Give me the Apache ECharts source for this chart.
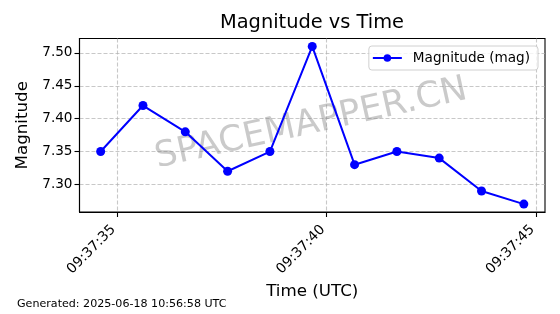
<!DOCTYPE html>
<html>
<head>
<meta charset="utf-8">
<script src="https://cdn.jsdelivr.net/npm/echarts@6/dist/echarts.min.js"></script>
<style>html,body{margin:0;padding:0;background:#fff}#c{width:560px;height:314px}</style>
</head>
<body>
<div id="c"></div>
<script>
// Data
const times = ["09:37:34.61","09:37:35.62","09:37:36.63","09:37:37.64","09:37:38.65","09:37:39.66","09:37:40.67","09:37:41.68","09:37:42.69","09:37:43.70","09:37:44.71"];
const magnitudes = [7.35, 7.42, 7.38, 7.32, 7.35, 7.51, 7.33, 7.35, 7.34, 7.29, 7.27];
const xTickLabels = ["09:37:35", "09:37:40", "09:37:45"];
const yTicks = [7.30, 7.35, 7.40, 7.45, 7.50];
const seriesName = "Magnitude (mag)";
const titleText = "Magnitude vs Time";
const xName = "Time (UTC)";
const yName = "Magnitude";
const footer = "Generated: 2025-06-18 10:56:58 UTC";
const watermark = "SPACEMAPPER.CN";

function toSec(s){ const p = s.split(":"); return (+p[0])*3600 + (+p[1])*60 + parseFloat(p[2]); }
function fmt(v){ v = Math.round(v); const h = Math.floor(v/3600), m = Math.floor((v%3600)/60), s = v%60; const z = n => String(n).padStart(2,"0"); return z(h)+":"+z(m)+":"+z(s); }

const xs = times.map(toSec);
const xTicks = xTickLabels.map(toSec);
const span = xs[xs.length-1] - xs[0];
const yspan = Math.max(...magnitudes) - Math.min(...magnitudes);
const xmin = xs[0] - span*0.05, xmax = xs[xs.length-1] + span*0.05;
const ymin = Math.min(...magnitudes) - yspan*0.05, ymax = Math.max(...magnitudes) + yspan*0.05;

const FONT = "DejaVu Sans";
const chart = echarts.init(document.getElementById("c"), null, {renderer: "canvas"});
chart.setOption({
  animation: false,
  backgroundColor: "#fff",
  textStyle: {fontFamily: FONT},
  grid: {left: 79.5, right: 15, top: 38.5, bottom: 102, show: true, borderColor: "#000", borderWidth: 1.1, backgroundColor: "transparent"},
  xAxis: {
    type: "value", min: xmin, max: xmax,
    name: xName, nameLocation: "middle", nameGap: 70,
    nameTextStyle: {fontFamily: FONT, fontSize: 16.7, color: "#000"},
    axisLine: {show: true, onZero: false, lineStyle: {color: "#000", width: 1.1}},
    axisTick: {show: true, length: 5, lineStyle: {color: "#000", width: 1.1}, customValues: xTicks},
    axisLabel: {customValues: xTicks, formatter: v => fmt(v), rotate: 45, margin: 12, padding: [0, 5, 0, 0], fontFamily: FONT, fontSize: 13.9, color: "#000"},
    splitLine: {show: true, lineStyle: {color: "#b0b0b0", opacity: 0.7, width: 1.1, type: [4, 2]}}
  },
  yAxis: {
    type: "value", min: ymin, max: ymax,
    name: yName, nameLocation: "middle", nameGap: 45,
    nameTextStyle: {fontFamily: FONT, fontSize: 16.7, color: "#000"},
    axisLine: {show: true, lineStyle: {color: "#000", width: 1.1}},
    axisTick: {show: true, length: 5, lineStyle: {color: "#000", width: 1.1}, customValues: yTicks},
    axisLabel: {customValues: yTicks, formatter: v => v.toFixed(2), margin: 7, fontFamily: FONT, fontSize: 13.6, color: "#000"},
    splitLine: {show: true, lineStyle: {color: "#b0b0b0", opacity: 0.7, width: 1.1, type: [4, 2]}}
  },
  legend: {
    data: [seriesName], right: 22, top: 46,
    orient: "vertical",
    itemWidth: 29, itemHeight: 9.5,
    padding: [5, 8, 5, 3],
    borderColor: "#d0d0d0", borderWidth: 1, borderRadius: 3,
    backgroundColor: "rgba(255,255,255,0.8)",
    textStyle: {fontFamily: FONT, fontSize: 13.6, color: "#000", padding: [0, 0, 0, 6]}
  },
  graphic: [
    {type: "text", x: 312, y: 23, style: {text: titleText, font: "19.4px DejaVu Sans", fill: "#000", align: "center", verticalAlign: "middle"}, z: 10},
    {type: "text", x: 311, y: 124, rotation: 12.5*Math.PI/180, style: {text: watermark, font: "35.5px DejaVu Sans", fill: "rgba(128,128,128,0.42)", align: "center", verticalAlign: "middle"}, z: 1},
    {type: "text", left: 17, top: 299, style: {text: footer, font: "11.1px DejaVu Sans", fill: "#000"}}
  ],
  series: [{
    name: seriesName, type: "line",
    data: xs.map((x, i) => [x, magnitudes[i]]),
    symbol: "circle", symbolSize: 9, showSymbol: true,
    lineStyle: {color: "#0000ff", width: 2},
    itemStyle: {color: "#0000ff", borderWidth: 0},
    z: 3
  }]
});
</script>
</body>
</html>
